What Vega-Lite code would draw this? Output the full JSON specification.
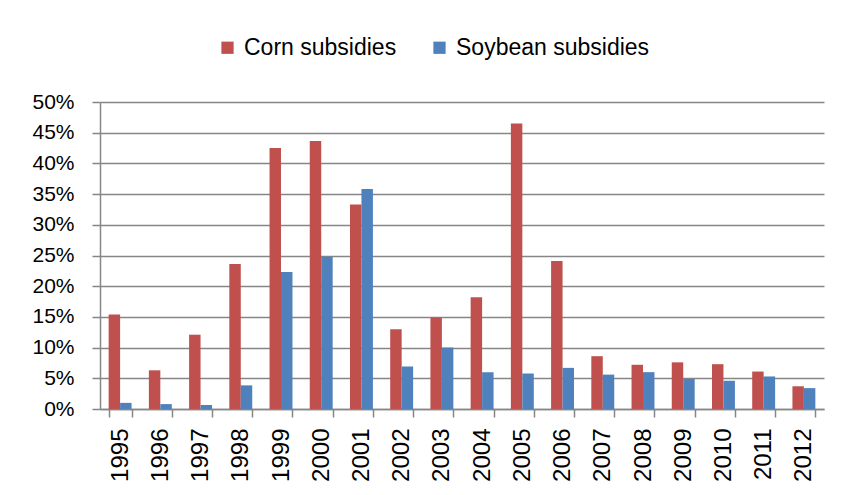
{
  "$schema": "https://vega.github.io/schema/vega-lite/v6.json",
  "width": 724,
  "height": 307,
  "autosize": {"type": "none"},
  "padding": {"left": 100, "top": 102, "right": 19, "bottom": 86},
  "background": "white",
  "data": {
    "values": [
      {"year": "1995", "crop": "Corn subsidies", "value": 0.154},
      {"year": "1995", "crop": "Soybean subsidies", "value": 0.010},
      {"year": "1996", "crop": "Corn subsidies", "value": 0.063},
      {"year": "1996", "crop": "Soybean subsidies", "value": 0.008},
      {"year": "1997", "crop": "Corn subsidies", "value": 0.121},
      {"year": "1997", "crop": "Soybean subsidies", "value": 0.0065},
      {"year": "1998", "crop": "Corn subsidies", "value": 0.236},
      {"year": "1998", "crop": "Soybean subsidies", "value": 0.0385},
      {"year": "1999", "crop": "Corn subsidies", "value": 0.425},
      {"year": "1999", "crop": "Soybean subsidies", "value": 0.223},
      {"year": "2000", "crop": "Corn subsidies", "value": 0.4365},
      {"year": "2000", "crop": "Soybean subsidies", "value": 0.248},
      {"year": "2001", "crop": "Corn subsidies", "value": 0.333},
      {"year": "2001", "crop": "Soybean subsidies", "value": 0.3585},
      {"year": "2002", "crop": "Corn subsidies", "value": 0.130},
      {"year": "2002", "crop": "Soybean subsidies", "value": 0.0694},
      {"year": "2003", "crop": "Corn subsidies", "value": 0.149},
      {"year": "2003", "crop": "Soybean subsidies", "value": 0.100},
      {"year": "2004", "crop": "Corn subsidies", "value": 0.182},
      {"year": "2004", "crop": "Soybean subsidies", "value": 0.060},
      {"year": "2005", "crop": "Corn subsidies", "value": 0.465},
      {"year": "2005", "crop": "Soybean subsidies", "value": 0.058},
      {"year": "2006", "crop": "Corn subsidies", "value": 0.241},
      {"year": "2006", "crop": "Soybean subsidies", "value": 0.067},
      {"year": "2007", "crop": "Corn subsidies", "value": 0.086},
      {"year": "2007", "crop": "Soybean subsidies", "value": 0.056},
      {"year": "2008", "crop": "Corn subsidies", "value": 0.072},
      {"year": "2008", "crop": "Soybean subsidies", "value": 0.060},
      {"year": "2009", "crop": "Corn subsidies", "value": 0.076},
      {"year": "2009", "crop": "Soybean subsidies", "value": 0.049},
      {"year": "2010", "crop": "Corn subsidies", "value": 0.073},
      {"year": "2010", "crop": "Soybean subsidies", "value": 0.046},
      {"year": "2011", "crop": "Corn subsidies", "value": 0.061},
      {"year": "2011", "crop": "Soybean subsidies", "value": 0.053},
      {"year": "2012", "crop": "Corn subsidies", "value": 0.037},
      {"year": "2012", "crop": "Soybean subsidies", "value": 0.034}
    ]
  },
  "mark": {"type": "bar"},
  "encoding": {
    "x": {
      "field": "year",
      "type": "nominal",
      "scale": {"paddingInner": 0.43, "paddingOuter": 0.215},
      "axis": {
        "title": null,
        "labelAngle": 270,
        "labelAlign": "right",
        "labelBaseline": "middle",
        "labelFont": "Liberation Sans",
        "labelFontSize": 24,
        "labelColor": "black",
        "labelPadding": 11,
        "tickBand": "extent",
        "tickSize": 8,
        "tickColor": "#868686",
        "tickWidth": 1.5,
        "domainColor": "#868686",
        "domainWidth": 1.5,
        "grid": false
      }
    },
    "xOffset": {
      "field": "crop",
      "type": "nominal",
      "sort": ["Corn subsidies", "Soybean subsidies"],
      "scale": {"paddingInner": 0, "paddingOuter": 0}
    },
    "y": {
      "field": "value",
      "type": "quantitative",
      "scale": {"domain": [0, 0.5], "nice": false},
      "axis": {
        "title": null,
        "values": [0, 0.05, 0.1, 0.15, 0.2, 0.25, 0.3, 0.35, 0.4, 0.45, 0.5],
        "format": ".0%",
        "labelFont": "Liberation Sans",
        "labelFontSize": 21,
        "labelColor": "black",
        "labelPadding": 18,
        "tickSize": 8,
        "tickColor": "#868686",
        "tickWidth": 1.5,
        "domainColor": "#868686",
        "domainWidth": 1.5,
        "gridColor": "#868686",
        "gridWidth": 1.5
      }
    },
    "color": {
      "field": "crop",
      "type": "nominal",
      "sort": ["Corn subsidies", "Soybean subsidies"],
      "scale": {"range": ["#C0504D", "#4F81BD"]},
      "legend": {
        "title": null,
        "orient": "none",
        "direction": "horizontal",
        "legendX": 116,
        "legendY": -66,
        "padding": 0,
        "symbolType": "square",
        "symbolSize": 150,
        "symbolStrokeWidth": 0,
        "labelFont": "Liberation Sans",
        "labelFontSize": 23,
        "labelLimit": 400,
        "labelColor": "black",
        "columnPadding": 31,
        "labelOffset": 5
      }
    }
  },
  "config": {"view": {"stroke": null}}
}
